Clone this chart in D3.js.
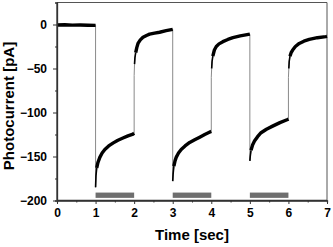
<!DOCTYPE html>
<html><head><meta charset="utf-8">
<script src="https://cdn.jsdelivr.net/npm/d3@7"></script>
<style>body{margin:0;background:#fff}svg{display:block}</style>
</head><body>
<svg id="c" width="333" height="247"></svg>
<script>
// ---- data ----
const dark0  = [[0,-0.5],[0.2,-0.3],[0.4,-0.7],[0.6,-0.5],[0.8,-0.8],[1.0,-1]];
const light1 = [[1.0,-185],[1.01,-172],[1.03,-163],[1.06,-157],[1.11,-151],[1.17,-146],[1.24,-142],[1.34,-138],[1.46,-134.5],[1.58,-131.5],[1.71,-129],[1.84,-126.5],[1.97,-124.5],[2.0,-123.5]];
const dark1  = [[2.0,-58],[2.01,-45],[2.02,-38],[2.04,-32],[2.07,-26],[2.1,-21.5],[2.16,-17.5],[2.23,-14.5],[2.32,-12.5],[2.4,-11],[2.53,-9.8],[2.66,-8.8],[2.83,-7],[3.0,-5.5]];
const light2 = [[3.0,-178],[3.01,-170],[3.03,-161],[3.06,-155],[3.09,-151],[3.15,-146],[3.22,-142],[3.32,-138],[3.44,-134],[3.57,-131],[3.7,-128],[3.83,-125],[3.95,-122.5],[4.0,-121.5]];
const dark2  = [[4.0,-60],[4.01,-50],[4.02,-42],[4.04,-36],[4.08,-29],[4.13,-25],[4.2,-22],[4.3,-19.5],[4.43,-17],[4.56,-15],[4.75,-13],[5.0,-11]];
const light3 = [[5.0,-155],[5.01,-150],[5.03,-143],[5.07,-137],[5.12,-132.5],[5.2,-127.5],[5.29,-123],[5.43,-119],[5.59,-115.5],[5.78,-111.5],[5.98,-108],[6.0,-107.5]];
const dark3  = [[6.0,-60],[6.01,-50],[6.02,-42],[6.04,-36],[6.07,-32],[6.11,-29],[6.18,-25],[6.28,-21.5],[6.4,-19],[6.54,-17],[6.75,-15],[6.97,-13.8],[7.0,-13.5]];
const lightOn = [[1,2],[3,4],[5,6]];
const barRange = [-197,-191];
const xTicks = [0,1,2,3,4,5,6,7];
const xMinor = [0.5,1.5,2.5,3.5,4.5,5.5,6.5];
const yTicks = [0,-50,-100,-150,-200];
const yMinor = [-25,-75,-125,-175];
const xTitle = "Time [sec]";
const yTitle = "Photocurrent [pA]";

// ---- layout ----
const svg = d3.select("#c");
const L = 57, R = 327, T = 2.5, B = 200.5;
const x = d3.scaleLinear().domain([0,7]).range([L,R]);
const y = d3.scaleLinear().domain([-200,25]).range([B,T]);
const font = "'Liberation Sans', Arial, sans-serif";

// frame (top/right)
svg.append("path").attr("d",`M${L},${T}H${R}V${B}`).attr("fill","none").attr("stroke","#555").attr("stroke-width",1);

// light bars
svg.selectAll("rect.bar").data(lightOn).enter().append("rect")
  .attr("x",d=>x(d[0])).attr("width",d=>x(d[1])-x(d[0]))
  .attr("y",y(barRange[1])).attr("height",y(barRange[0])-y(barRange[1]))
  .attr("fill","#6e6e6e");

// trace
const segs = [dark0, light1, dark1, light2, dark2, light3, dark3];
const all = segs.flat();
const line = d3.line().x(d=>x(d[0])).y(d=>y(d[1]));
svg.append("path").attr("d",line(all)).attr("fill","none").attr("stroke","#8a8a8a").attr("stroke-width",1);
segs.forEach((s,i)=>{
  const start = i===0 ? 0 : (i%2===0 ? 2 : 1);
  const pts = s.slice(start);
  // thin lead-in to mimic the tapered start of each trace
  if (i>0) {
    svg.append("path").attr("d",line(s.slice(start-1,start+2))).attr("fill","none")
      .attr("stroke","#000").attr("stroke-width",1.6);
  }
  svg.append("path").attr("d",line(pts.slice(i===0?0:1))).attr("fill","none").attr("stroke","#000")
    .attr("stroke-width",3.4).attr("stroke-linejoin","round");
});

// axes
const gx = svg.append("g").attr("transform",`translate(0,${B})`)
  .call(d3.axisBottom(x).tickValues(xTicks).tickSize(3.5).tickPadding(4).tickFormat(d3.format("d")));
const gxm = svg.append("g").attr("transform",`translate(0,${B})`)
  .call(d3.axisBottom(x).tickValues(xMinor).tickSize(2).tickFormat(""));
const gy = svg.append("g").attr("transform",`translate(${L},0)`)
  .call(d3.axisLeft(y).tickValues(yTicks).tickSize(4).tickPadding(6).tickFormat(d3.format("d")));
const gym = svg.append("g").attr("transform",`translate(${L},0)`)
  .call(d3.axisLeft(y).tickValues(yMinor).tickSize(2).tickFormat(""));
[gx,gxm,gy,gym].forEach(g=>{
  g.select(".domain").attr("stroke","#333").attr("stroke-width",1.3);
  g.selectAll(".tick line").attr("stroke","#333").attr("stroke-width",1);
  g.selectAll("text").attr("font-family",font).attr("font-size",12).attr("font-weight","bold").attr("fill","#000");
});
gx.select(".domain").attr("d",`M${L},0H${R}`);
gy.select(".domain").attr("d",`M0,${B}V${T}`);

// titles
svg.append("text").attr("x",(L+R)/2).attr("y",240).attr("text-anchor","middle")
  .attr("font-family",font).attr("font-size",15).attr("font-weight","bold").text(xTitle);
svg.append("text").attr("transform",`translate(14,106) rotate(-90)`).attr("text-anchor","middle")
  .attr("font-family",font).attr("font-size",15).attr("font-weight","bold").text(yTitle);
</script>
</body></html>
